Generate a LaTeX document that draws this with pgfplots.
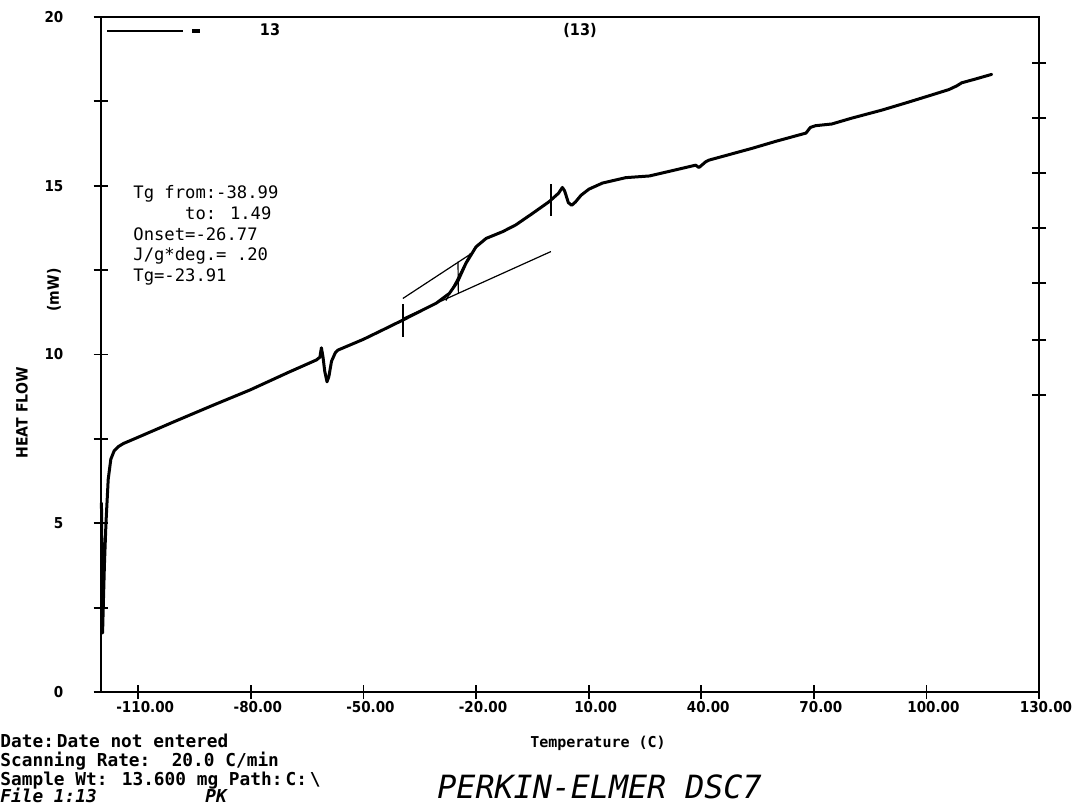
\documentclass[border=0pt]{standalone}
\usepackage{fontspec}
\usepackage{pgfplots}
\pgfplotsset{compat=1.18}
\setmainfont{DejaVu Sans}
\newfontfamily\monofont{DejaVu Sans Mono}
\newfontfamily\tickfont[FakeStretch=0.9]{DejaVu Sans}
\newfontfamily\pefont[FakeStretch=0.99]{DejaVu Sans Mono}
\pgfplotstableread{
x y
-119.8 5.6
-119.6 3.0
-119.5 1.75
-119.3 2.6
-119.0 3.8
-118.6 5.0
-118.0 6.3
-117.3 6.9
-116.4 7.15
-115.3 7.27
-114.0 7.36
-110 7.55
-100 8.03
-90 8.50
-80.2 8.95
-70 9.47
-62.5 9.84
-61.6 9.92
-61.2 10.2
-60.8 9.95
-60.3 9.5
-59.7 9.19
-59.2 9.35
-58.5 9.8
-57.5 10.05
-56.8 10.13
-50 10.45
-45 10.72
-39.5 11.02
-34.2 11.32
-30.6 11.52
-27.1 11.81
-24.9 12.16
-22.7 12.7
-20.0 13.19
-17.3 13.44
-12.9 13.64
-9.4 13.84
-4.95 14.18
-0.5 14.53
2.0 14.78
3.0 14.95
3.6 14.85
4.6 14.5
5.5 14.42
6.5 14.52
8.0 14.72
10.1 14.90
13.7 15.08
19.9 15.24
26.2 15.29
32 15.44
38.5 15.61
39.4 15.54
41.2 15.71
42.1 15.76
53.6 16.11
60 16.32
66.9 16.53
67.9 16.56
69.1 16.73
70.5 16.78
74.8 16.83
80 17.0
88.1 17.24
95 17.47
101.4 17.69
106 17.85
108.1 17.96
109.4 18.05
113 18.16
117.4 18.3
}\dsc
\begin{document}
\begin{tikzpicture}
\path[use as bounding box] (0,0) rectangle (536pt,402.5pt);
\begin{axis}[
  at={(50.35pt,56.5pt)}, anchor=south west, scale only axis,
  width=469.15pt, height=337.5pt,
  xmin=-120, xmax=130, ymin=0, ymax=20,
  xtick={-110,-80,-50,-20,10,40,70,100,130},
  xticklabels={-110.00,-80.00,-50.00,-20.00,10.00,40.00,70.00,100.00,130.00},
  ytick={0,5,10,15,20}, yticklabels={0,5,10,15,20},
  minor ytick={2.5,7.5,12.5,17.5},
  xtick pos=bottom, ytick pos=left,
  tick align=center, major tick length=7pt, minor tick length=7pt,
  tick style={line width=0.9pt, black},
  axis line style={line width=1.1pt},
  ticklabel style={font=\tickfont\bfseries\fontsize{7.5}{9}\selectfont, inner sep=0pt},
  xticklabel style={xshift=3.5pt},
  xticklabel shift=1pt,
  yticklabel shift=15pt,
  clip=false,
]
\addplot[black, line width=1.5pt, line join=round, line cap=round] table[x=x,y=y]{\dsc};
\addplot[black, line width=0.6pt] coordinates {(-39.5,11.07) (-0.05,13.05)};
\addplot[black, line width=0.6pt] coordinates {(-39.5,11.66) (-21.8,12.95)};
\addplot[black, line width=0.6pt] coordinates {(-24.7,11.81) (-24.8,12.75)};
\addplot[black, line width=0.6pt] coordinates {(-28,11.6) (-21.5,13.0)};
\addplot[black, line width=0.8pt] coordinates {(-39.5,10.52) (-39.5,11.5)};
\addplot[black, line width=0.8pt] coordinates {(-0.1,14.1) (-0.1,15.05)};
\end{axis}
\begin{axis}[
  at={(50.35pt,56.5pt)}, anchor=south west, scale only axis,
  width=469.15pt, height=337.5pt,
  xmin=-120, xmax=130, ymin=0, ymax=20,
  axis line style={draw=none}, xtick=\empty,
  ytick={8.8,10.43,12.12,13.75,15.38,17.0,18.64}, yticklabels={,,,,,,},
  yticklabel style={text opacity=0},
  ytick pos=right, tick align=center, major tick length=7pt,
  tick style={line width=0.9pt, black},
]
\end{axis}
% legend-like header
\draw[line width=0.9pt] (53.5pt,387pt) -- (91.5pt,387pt);
\draw[line width=2.2pt] (96pt,387pt) -- (100pt,387pt);
\node[font=\tickfont\bfseries\fontsize{8}{9}\selectfont] at (135pt,387.5pt) {13};
\node[font=\tickfont\bfseries\fontsize{8}{9}\selectfont] at (290pt,387.5pt) {(13)};
% annotation
\node[anchor=north west, inner sep=0pt, align=left, font=\monofont\fontsize{8.6}{10.4}\selectfont] at (66.5pt,310pt)
 {Tg from:-38.99\\\phantom{xxxxx}to: 1.49\\Onset=-26.77\\J/g*deg.= .20\\Tg=-23.91};
% axis titles
\node[rotate=90, font=\tickfont\bfseries\fontsize{7.8}{9}\selectfont] at (11pt,196pt) {HEAT FLOW};
\node[rotate=90, font=\tickfont\bfseries\fontsize{7.8}{9}\selectfont] at (27pt,257.5pt) {(mW)};
\node[font=\monofont\bfseries\fontsize{7.5}{9}\selectfont] at (299pt,31pt) {Temperature (C)};
% bottom info
\begin{scope}[every node/.style={anchor=base west, inner sep=0pt, font=\monofont\bfseries\fontsize{8.9}{9.5}\selectfont}]
\node at (0pt,29pt) {Date:\,Date not entered};
\node at (0pt,19.5pt) {Scanning Rate:\hspace{1.2em}20.0 C/min};
\node at (0pt,10pt) {Sample Wt: 13.600 mg Path:\,C:\,\textbackslash};
\node at (0pt,1.5pt) {\itshape File 1:13};
\node at (102.5pt,1.5pt) {\itshape PK};
\end{scope}
\node[anchor=base west, inner sep=0pt, font=\pefont\itshape\fontsize{16}{18}\selectfont] at (218.5pt,3.5pt) {PERKIN-ELMER DSC7};
\end{tikzpicture}
\end{document}
